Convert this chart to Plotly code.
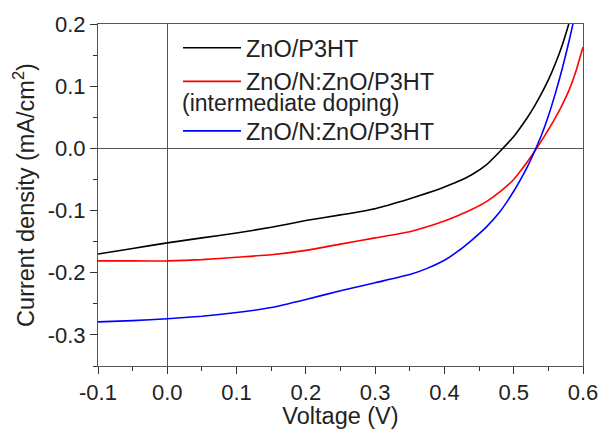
import plotly.graph_objects as go

voltage = [-0.1, -0.05, 0.0, 0.05, 0.1, 0.15, 0.2, 0.25, 0.3, 0.35, 0.375, 0.4, 0.42, 0.44, 0.46, 0.48,
           0.5, 0.51, 0.52, 0.53, 0.54, 0.55, 0.56, 0.57, 0.58, 0.59, 0.6]
j_zno = [-0.170, -0.161, -0.152, -0.144, -0.136, -0.127, -0.116, -0.107, -0.097, -0.081, -0.072, -0.062, -0.053, -0.042, -0.027, -0.005,
         0.019, 0.034, 0.050, 0.068, 0.088, 0.110, 0.136, 0.166, 0.202, 0.242, 0.290]
j_inter = [-0.181, -0.181, -0.181, -0.179, -0.175, -0.171, -0.164, -0.154, -0.144, -0.134, -0.126, -0.117, -0.108, -0.098, -0.086, -0.070,
           -0.050, -0.036, -0.021, -0.005, 0.012, 0.030, 0.049, 0.070, 0.094, 0.125, 0.163]
j_nzno = [-0.279, -0.277, -0.274, -0.270, -0.264, -0.256, -0.243, -0.229, -0.216, -0.203, -0.193, -0.180, -0.165, -0.147, -0.127, -0.102,
          -0.069, -0.050, -0.029, -0.005, 0.021, 0.052, 0.088, 0.128, 0.173, 0.223, 0.280]

names = ["ZnO/P3HT", "ZnO/N:ZnO/P3HT", "ZnO/N:ZnO/P3HT"]
groups = ["a", "a", "b"]
colors = ["#000000", "#ff0000", "#0000ff"]
note_text = "(intermediate doping)"

x_ticks = [-0.1, 0.0, 0.1, 0.2, 0.3, 0.4, 0.5, 0.6]
x_ticktext = ["-0.1", "0.0", "0.1", "0.2", "0.3", "0.4", "0.5", "0.6"]
y_ticks = [-0.3, -0.2, -0.1, 0.0, 0.1, 0.2]
y_ticktext = ["-0.3", "-0.2", "-0.1", "0.0", "0.1", "0.2"]

FONT = "Arial, Liberation Sans, sans-serif"

fig = go.Figure()
for ys, name, c, g in zip([j_zno, j_inter, j_nzno], names, colors, groups):
    fig.add_trace(go.Scatter(x=voltage, y=ys, mode="lines", name=name, legendgroup=g,
                             line=dict(color=c, width=1.6, shape="spline", smoothing=0.5)))

axis_common = dict(
    showgrid=False, showline=True, linecolor="#555", linewidth=1, mirror=True,
    ticks="outside", ticklen=7, tickwidth=1, tickcolor="#333", automargin=False,
    zeroline=True, zerolinecolor="#555", zerolinewidth=1,
    tickfont=dict(size=22, color="#222", family=FONT),
)

fig.update_xaxes(range=[-0.1, 0.6], tickvals=x_ticks, ticktext=x_ticktext,
                 minor=dict(dtick=0.05, tick0=0, ticks="outside", ticklen=4, tickcolor="#333"),
                 title=dict(text="Voltage (V)", font=dict(size=23.5, color="#222", family=FONT), standoff=2),
                 **axis_common)
fig.update_yaxes(range=[-0.35, 0.2], tickvals=y_ticks, ticktext=y_ticktext,
                 minor=dict(dtick=0.05, tick0=0, ticks="outside", ticklen=4, tickcolor="#333"),
                 title=dict(text="Current density (mA/cm<sup>2</sup>)", font=dict(size=23.5, color="#222", family=FONT), standoff=6),
                 **axis_common)

fig.add_annotation(text=note_text, xref="paper", yref="paper", x=(180 - 98) / 485, y=1 - (103 - 24) / 342,
                   xanchor="left", yanchor="middle", showarrow=False,
                   font=dict(size=23, color="#222", family=FONT))

fig.update_layout(
    width=603, height=429,
    margin=dict(l=98, r=20, t=24, b=63),
    paper_bgcolor="white", plot_bgcolor="white",
    showlegend=True,
    legend=dict(x=(178 - 98) / 485, y=1 - (26 - 24) / 342, xanchor="left", yanchor="top",
                bgcolor="rgba(0,0,0,0)", borderwidth=0, traceorder="grouped",
                font=dict(size=23.5, color="#222", family=FONT), itemwidth=58,
                tracegroupgap=16),
)

fig.write_html("out.html")
